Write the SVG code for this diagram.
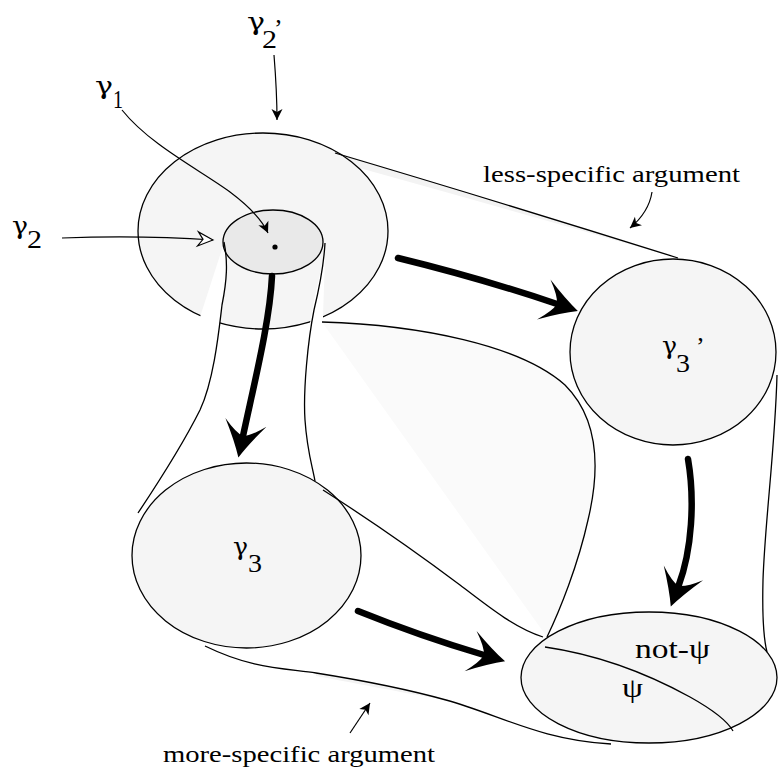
<svg xmlns="http://www.w3.org/2000/svg" width="779" height="777" viewBox="0 0 779 777">
<style>
.t{font-family:"Liberation Serif","Times New Roman",serif;fill:#000}
.gam{font-family:"DejaVu Serif","Liberation Serif",serif;font-size:24px;fill:#000}
.g{font-size:26px}
.lbl{font-size:24px}
.node{fill:#f5f5f5;stroke:#000;stroke-width:1.3}
.ln{fill:none;stroke:#000;stroke-width:1.3}
.thick{fill:none;stroke:#000;stroke-width:6.5;stroke-linecap:round}
.thin{fill:none;stroke:#000;stroke-width:1.2}
</style>
<defs>
<marker id="big" markerUnits="userSpaceOnUse" orient="auto" refX="-22" refY="0" overflow="visible"><path d="M0,0 Q-15,-7 -36,-21 Q-24,-8 -22,0 Q-24,8 -36,21 Q-15,7 0,0Z" fill="#000"/></marker>
<marker id="sm" markerUnits="userSpaceOnUse" orient="auto" refX="0" refY="0" overflow="visible"><path d="M0,0 L-11,-5.5 L-8,0 L-11,5.5Z" fill="#000"/></marker>
<marker id="open" markerUnits="userSpaceOnUse" orient="auto" refX="0" refY="0" overflow="visible"><path d="M0,0 L-15,-7 L-10,0 L-15,7Z" fill="#fff" stroke="#000" stroke-width="1.2"/></marker>
</defs>

<g id="shading">
<path d="M322,322 C420,325 520,345 565,385 C600,420 600,470 588,520 C578,565 560,610 547,637 Z" fill="#fafafa"/>
<path d="M338,153 Q500,202 678,258 Q500,207 345,164 Z" fill="#f3f3f3"/>
<path d="M316,673 C360,682 410,690 446,700 C410,694 360,684 316,676 Z" fill="#f3f3f3"/>
</g>

<g id="node-gamma2p">
<ellipse class="node" cx="263" cy="231" rx="125" ry="98"/>
<path d="M200.5,315.5 L224,243 L227,262 L226,282 L222,308 L219.5,325 L219,328 L210,325 L199,321 Z" fill="#fff"/>
<path d="M325.5,243 L323,316 L323,321 L316,325 L309,327 L310,323 L314,300 L319,278 L324,256 Z" fill="#fff"/>
</g>
<g id="node-gamma3p"><ellipse class="node" cx="673" cy="352" rx="103" ry="93"/></g>
<g id="node-gamma3"><ellipse class="node" cx="246.5" cy="555.5" rx="114.5" ry="92.5"/></g>
<g id="node-psi">
<ellipse class="node" cx="649" cy="677.5" rx="128" ry="65.5"/>
<path class="ln" d="M545,647 C600,655 650,675 690,697 C715,711 728,722 733,731"/>
</g>
<g id="node-gamma2">
<ellipse cx="273" cy="242" rx="50" ry="32" fill="#e9e9e9" stroke="#000" stroke-width="1.3"/>
<circle cx="275" cy="247" r="2.6" fill="#000"/>
</g>

<g id="connectors">
<path class="ln" d="M335,153 Q500,202 678,258"/>
<path class="ln" d="M322,322 C420,325 520,345 565,385 C600,420 600,470 588,520 C578,565 560,610 547,637"/>
<path class="ln" d="M323,490 C370,520 420,555 460,585 C490,608 515,628 543,637"/>
<path class="ln" d="M777,375 C775,450 765,520 763,580 C762,620 764,640 767,652"/>
<path class="ln" d="M205,646 C250,668 280,668 316,673 C360,680 410,690 446,700 C500,715 540,740 611,744"/>
<path class="ln" d="M224,242 C228,262 227,280 222,305 C219,330 214,380 200,410 C185,440 160,480 138,513"/>
<path class="ln" d="M325,243 C324,262 320,285 314,310 C308,340 303,390 305,420 C307,450 312,465 315,481"/>

<path class="thick" d="M272,276 C270,320 255,380 243,436" marker-end="url(#big)"/>
<path class="thick" d="M398,258 Q480,278 557,304" marker-end="url(#big)"/>
<path class="thick" d="M688,459 C695,500 692,550 678.5,586" marker-end="url(#big)"/>
<path class="thick" d="M358,611 Q420,636 484,655" marker-end="url(#big)"/>

<path class="thin" d="M274,55 C276,80 277,100 277,120" marker-end="url(#sm)"/>
<path class="thin" d="M122,110 C150,145 200,170 230,192 C250,207 262,220 268,233" marker-end="url(#sm)"/>
<path class="thin" d="M62,238 Q140,235 213,240" marker-end="url(#open)"/>
<path class="thin" d="M652,192 C650,205 642,218 630,228" marker-end="url(#sm)"/>
<path class="thin" d="M350,733 L370,703" marker-end="url(#sm)"/>
</g>

<g id="labels">
<text class="gam" x="95" y="94" textLength="18" lengthAdjust="spacingAndGlyphs">γ</text>
<text class="t g" x="113" y="108" textLength="10" lengthAdjust="spacingAndGlyphs">1</text>
<text class="gam" x="12" y="234" textLength="16" lengthAdjust="spacingAndGlyphs">γ</text>
<text class="t g" x="27" y="248" textLength="15" lengthAdjust="spacingAndGlyphs">2</text>
<text class="gam" x="247" y="30" textLength="18" lengthAdjust="spacingAndGlyphs">γ</text>
<text class="t g" x="262" y="48" textLength="15" lengthAdjust="spacingAndGlyphs">2</text>
<text class="t g" x="274" y="37">’</text>
<text class="gam" x="662" y="354" textLength="15" lengthAdjust="spacingAndGlyphs">γ</text>
<text class="t g" x="676" y="372" textLength="14" lengthAdjust="spacingAndGlyphs">3</text>
<text class="t g" x="696" y="355">’</text>
<text class="gam" x="233" y="555" textLength="15" lengthAdjust="spacingAndGlyphs">γ</text>
<text class="t g" x="248" y="572" textLength="14" lengthAdjust="spacingAndGlyphs">3</text>
<text class="t" style="font-size:27px" x="635" y="658" textLength="75" lengthAdjust="spacingAndGlyphs">not-ψ</text>
<text class="t" style="font-size:27px" x="622" y="697" textLength="21" lengthAdjust="spacingAndGlyphs">ψ</text>
<text class="t lbl" x="483" y="182" textLength="257" lengthAdjust="spacingAndGlyphs">less-specific argument</text>
<text class="t lbl" x="163" y="762" textLength="272" lengthAdjust="spacingAndGlyphs">more-specific argument</text>
</g>
</svg>
